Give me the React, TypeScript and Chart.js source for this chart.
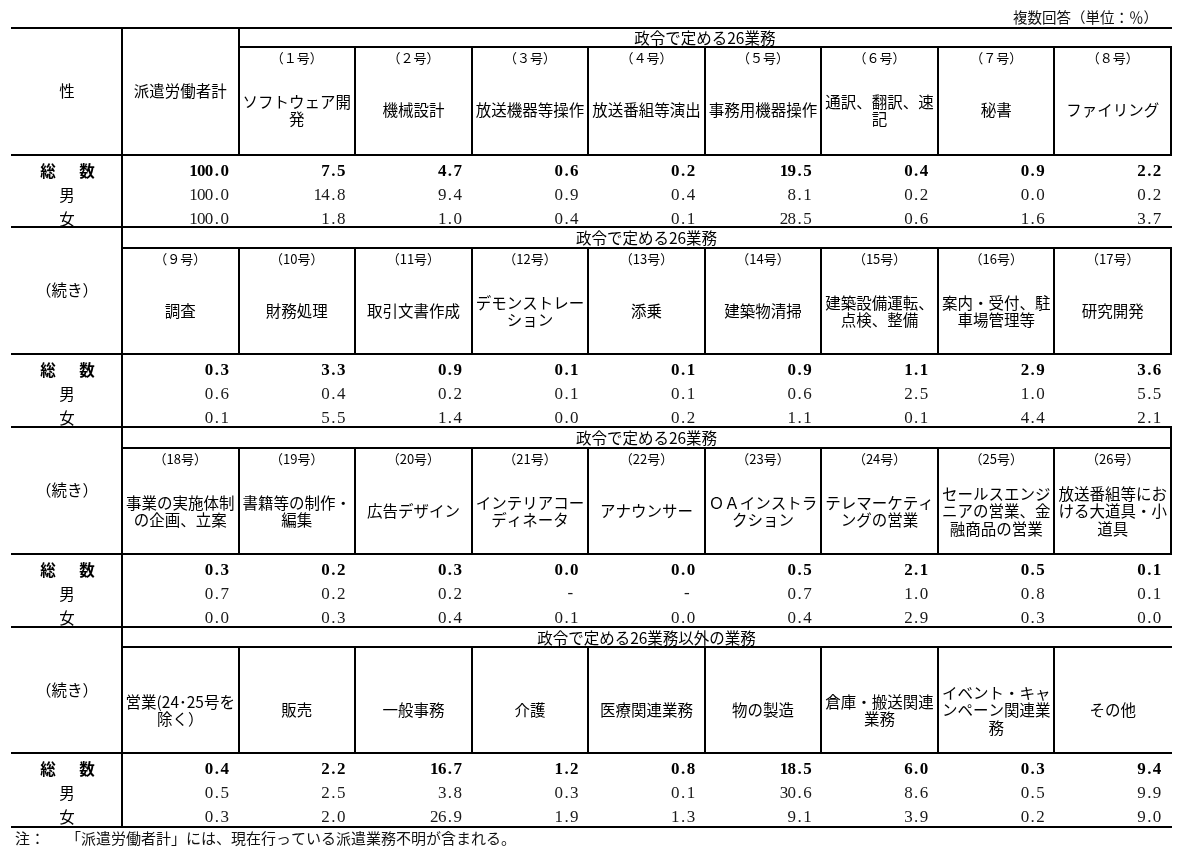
import React, { useEffect, useRef } from 'react';
import { Chart, registerables } from 'chart.js';

Chart.register(...registerables);

// ---------- data ----------
const unitNote = '複数回答（単位：％）';
const footNoteHead = '注：';
const footNoteBody = '「派遣労働者計」には、現在行っている派遣業務不明が含まれる。';
const rowLabels = ['総数', '男', '女'];
const sectionBands = ['政令で定める26業務', '政令で定める26業務', '政令で定める26業務', '政令で定める26業務以外の業務'];
const firstHeaders = ['性', '（続き）', '（続き）', '（続き）'];
const totalColumnLabel = '派遣労働者計';

const codes1 = ['（１号）', '（２号）', '（３号）', '（４号）', '（５号）', '（６号）', '（７号）', '（８号）'];
const names1 = [['ソフトウェア開', '発'], ['機械設計'], ['放送機器等操作'], ['放送番組等演出'], ['事務用機器操作'], ['通訳、翻訳、速', '記'], ['秘書'], ['ファイリング']];
const total1 = [100.0, 7.5, 4.7, 0.6, 0.2, 19.5, 0.4, 0.9, 2.2];
const male1 = [100.0, 14.8, 9.4, 0.9, 0.4, 8.1, 0.2, 0.0, 0.2];
const female1 = [100.0, 1.8, 1.0, 0.4, 0.1, 28.5, 0.6, 1.6, 3.7];

const codes2 = ['（９号）', '（10号）', '（11号）', '（12号）', '（13号）', '（14号）', '（15号）', '（16号）', '（17号）'];
const names2 = [['調査'], ['財務処理'], ['取引文書作成'], ['デモンストレー', 'ション'], ['添乗'], ['建築物清掃'], ['建築設備運転、', '点検、整備'], ['案内・受付、駐', '車場管理等'], ['研究開発']];
const total2 = [0.3, 3.3, 0.9, 0.1, 0.1, 0.9, 1.1, 2.9, 3.6];
const male2 = [0.6, 0.4, 0.2, 0.1, 0.1, 0.6, 2.5, 1.0, 5.5];
const female2 = [0.1, 5.5, 1.4, 0.0, 0.2, 1.1, 0.1, 4.4, 2.1];

const codes3 = ['（18号）', '（19号）', '（20号）', '（21号）', '（22号）', '（23号）', '（24号）', '（25号）', '（26号）'];
const names3 = [['事業の実施体制', 'の企画、立案'], ['書籍等の制作・', '編集'], ['広告デザイン'], ['インテリアコー', 'ディネータ'], ['アナウンサー'], ['ＯＡインストラ', 'クション'], ['テレマーケティ', 'ングの営業'], ['セールスエンジ', 'ニアの営業、金', '融商品の営業'], ['放送番組等にお', 'ける大道具・小', '道具']];
const total3 = [0.3, 0.2, 0.3, 0.0, 0.0, 0.5, 2.1, 0.5, 0.1];
const male3: (number | null)[] = [0.7, 0.2, 0.2, null, null, 0.7, 1.0, 0.8, 0.1];
const female3 = [0.0, 0.3, 0.4, 0.1, 0.0, 0.4, 2.9, 0.3, 0.0];

const codes4: string[] = ['', '', '', '', '', '', '', '', ''];
const names4 = [['営業(24･25号を', '除く）'], ['販売'], ['一般事務'], ['介護'], ['医療関連業務'], ['物の製造'], ['倉庫・搬送関連', '業務'], ['イベント・キャ', 'ンペーン関連業', '務'], ['その他']];
const total4 = [0.4, 2.2, 16.7, 1.2, 0.8, 18.5, 6.0, 0.3, 9.4];
const male4 = [0.5, 2.5, 3.8, 0.3, 0.1, 30.6, 8.6, 0.5, 9.9];
const female4 = [0.3, 2.0, 26.9, 1.9, 1.3, 9.1, 3.9, 0.2, 9.0];

// ---------- derived table structure ----------
const sections = [
  { codes: codes1, names: names1, rows: [total1, male1, female1] },
  { codes: codes2, names: names2, rows: [total2, male2, female2] },
  { codes: codes3, names: names3, rows: [total3, male3, female3] },
  { codes: codes4, names: names4, rows: [total4, male4, female4] },
];

// ---------- layout (styles / positions) ----------
const W = 1180;
const H = 849;
const LEFT = 12;
const RIGHT = 1171;
const COL0 = 122;
const COLW = (RIGHT - COL0) / 9;
const TOPS = [28, 227, 427, 627];
const BAND_BOTTOMS = [47, 248, 448, 647];
const HEAD_BOTTOMS = [155, 354, 554, 753];
const SEC_BOTTOMS = [227, 427, 627, 827];
const CJK = "'Noto Sans CJK JP', 'Noto Sans', sans-serif";
const NUM = "'Liberation Serif', 'DejaVu Serif', serif";
const HEAD_SIZE = 15.5;

const tablePlugin = {
  id: 'tablePlugin',
  afterDraw(chart: any) {
    const ctx: CanvasRenderingContext2D = chart.ctx;
    const xs = chart.scales.x;
    const ys = chart.scales.y;
    const px = (v: number) => xs.getPixelForValue(v);
    const py = (v: number) => ys.getPixelForValue(v);
    const colL = (i: number) => COL0 + i * COLW;

    ctx.save();
    ctx.fillStyle = '#fff';
    ctx.fillRect(0, 0, chart.width, chart.height);

    ctx.fillStyle = '#000';
    const hLine = (x1: number, x2: number, y: number) => {
      const a = Math.round(px(x1));
      const b = Math.round(px(x2));
      ctx.fillStyle = '#000';
      ctx.fillRect(a - 1, Math.round(py(y)) - 1, b - a + 2, 2);
    };
    const vLine = (x: number, y1: number, y2: number) => {
      const a = Math.round(py(y1));
      const b = Math.round(py(y2));
      ctx.fillStyle = '#000';
      ctx.fillRect(Math.round(px(x)) - 1, a - 1, 2, b - a + 2);
    };
    const text = (s: string, x: number, y: number, size: number, align: CanvasTextAlign = 'center', bold = false, color = '#000') => {
      ctx.font = `${bold ? 'bold ' : ''}${size}px ${CJK}`;
      ctx.textAlign = align;
      ctx.textBaseline = 'middle';
      ctx.fillStyle = color;
      ctx.fillText(s, px(x), py(y));
    };
    const mono = (s: string, rightX: number, y: number, bold: boolean) => {
      const pitch = 7.8;
      ctx.font = `${bold ? 'bold ' : ''}17px ${NUM}`;
      ctx.textAlign = 'center';
      ctx.textBaseline = 'middle';
      ctx.fillStyle = bold ? '#000' : '#1a1a1a';
      const n = s.length;
      for (let i = 0; i < n; i++) {
        const cx = rightX - (n - 1 - i) * pitch - pitch / 2;
        ctx.fillText(s[i], px(cx), py(y) + 1);
      }
    };

    // unit note
    text(unitNote, 1158, 17, 14.5, 'right', false, '#111');

    sections.forEach((sec, s) => {
      const top = TOPS[s];
      const bandB = BAND_BOTTOMS[s];
      const headB = HEAD_BOTTOMS[s];
      const secB = SEC_BOTTOMS[s];
      const firstHeadCol = s === 0 ? 1 : 0;
      const bandLeft = colL(firstHeadCol);

      // horizontal lines
      hLine(LEFT, RIGHT, top);
      hLine(bandLeft, RIGHT, bandB);
      hLine(LEFT, RIGHT, headB);
      hLine(LEFT, RIGHT, secB);

      // vertical lines
      vLine(COL0, top, secB);
      if (s === 0) vLine(colL(1), top, headB);
      for (let i = firstHeadCol + 1; i < 9; i++) vLine(colL(i), bandB, headB);
      if (s === 0 || s === 1) vLine(RIGHT, bandB, headB);
      if (s === 2) vLine(RIGHT, top, headB);

      // first column header
      text(firstHeaders[s], (LEFT + COL0) / 2, (top + headB) / 2, HEAD_SIZE);
      if (s === 0) text(totalColumnLabel, (colL(0) + colL(1)) / 2, (top + headB) / 2, HEAD_SIZE);

      // band label
      text(sectionBands[s], (bandLeft + RIGHT) / 2, (top + bandB) / 2 + 1, HEAD_SIZE);

      // column headers
      sec.names.forEach((lines, k) => {
        const ci = k + firstHeadCol;
        const cx = (colL(ci) + colL(ci + 1)) / 2;
        const code = sec.codes[k];
        if (code) text(code, cx, bandB + 11, 13);
        const lh = 17.5;
        const cy = bandB + 63.5;
        lines.forEach((ln, li) => {
          text(ln, cx, cy + (li - (lines.length - 1) / 2) * lh, HEAD_SIZE);
        });
      });

      // data rows
      sec.rows.forEach((vals, r) => {
        const y = headB + 16 + r * 24;
        const bold = r === 0;
        if (r === 0) {
          text('総', 48, y, HEAD_SIZE, 'center', true);
          text('数', 87, y, HEAD_SIZE, 'center', true);
        } else {
          text(rowLabels[r], (LEFT + COL0) / 2, y, HEAD_SIZE);
        }
        vals.forEach((v, c) => {
          const right = colL(c + 1) - 10;
          if (v === null || v === undefined) {
            ctx.font = `17px ${NUM}`;
            ctx.textAlign = 'center';
            ctx.textBaseline = 'middle';
            ctx.fillStyle = '#1a1a1a';
            ctx.fillText('-', px(colL(c + 1) - 18), py(y));
          } else {
            mono(v.toFixed(1), right, y, bold);
          }
        });
      });
    });

    // foot note
    text(footNoteHead, 15, 838, 15, 'left', false, '#111');
    text(footNoteBody, 66, 838, 15, 'left', false, '#111');

    ctx.restore();
  },
};

export default function App() {
  const ref = useRef<HTMLCanvasElement | null>(null);
  useEffect(() => {
    if (!ref.current) return;
    const chart = new Chart(ref.current, {
      type: 'scatter',
      data: { datasets: [{ data: [], pointRadius: 0 }] },
      options: {
        animation: false,
        responsive: false,
        maintainAspectRatio: false,
        devicePixelRatio: 1,
        layout: { padding: 0 },
        plugins: { legend: { display: false }, tooltip: { enabled: false } },
        scales: {
          x: { type: 'linear', min: 0, max: W, display: false },
          y: { type: 'linear', min: 0, max: H, reverse: true, display: false },
        },
      },
      plugins: [tablePlugin],
    } as any);
    return () => chart.destroy();
  }, []);
  return (
    <div style={{ position: 'absolute', left: 0, top: 0, width: W, height: H, background: '#fff' }}>
      <canvas ref={ref} width={W} height={H} style={{ display: 'block', width: W, height: H }} />
    </div>
  );
}
